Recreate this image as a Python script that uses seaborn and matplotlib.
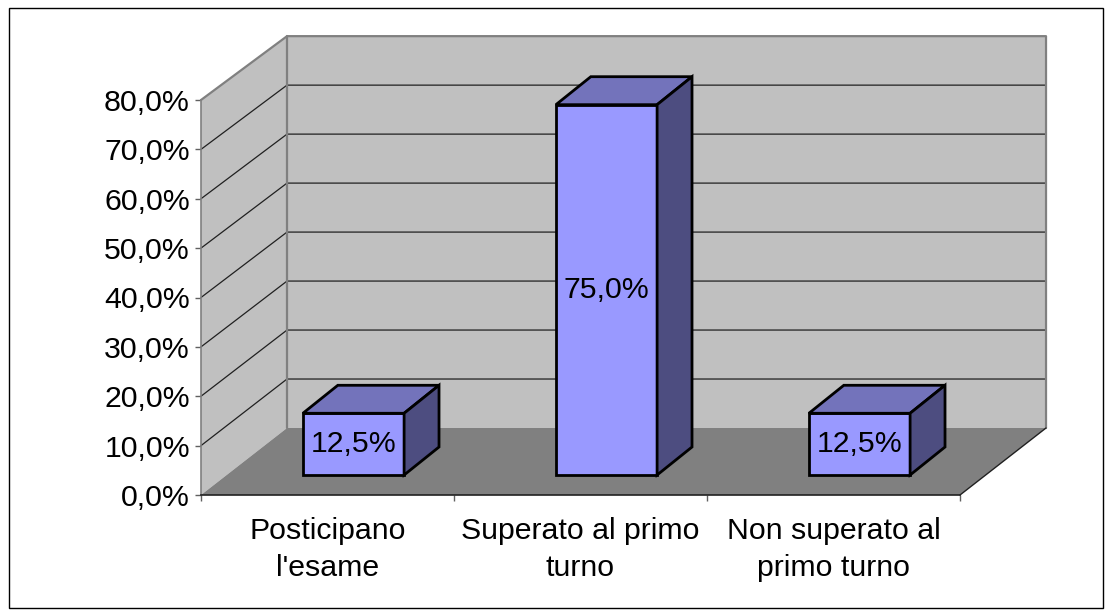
"""Excel style 3D bar chart of exam results"""

from matplotlib import pyplot as plt
from matplotlib.patches import Polygon, Rectangle
import pandas as pd
import seaborn as sns

categories = ["Posticipano\nl'esame", "Superato al primo\nturno", "Non superato al\nprimo turno"]
values = [12.5, 75.0, 12.5]
value_labels = ["12,5%", "75,0%", "12,5%"]
y_ticks = [0, 10, 20, 30, 40, 50, 60, 70, 80]
y_tick_labels = ["0,0%", "10,0%", "20,0%", "30,0%", "40,0%", "50,0%", "60,0%", "70,0%", "80,0%"]

W, H = 1111, 615
FONT = 21.8
BAR_LW = 2


def axes_rect(left, top, right, bottom):
    # pixel box to figure fractions
    return [left / W, 1 - bottom / H, (right - left) / W, (bottom - top) / H]


def back_x(x):
    return x + 0.34


def back_y(v):
    return 13.57 + v * 0.992


def draw_box(ax):
    # floor and the two walls sit behind the front plane
    x0, x1 = -0.5, 2.5
    floor = [(x0, 0), (x1, 0), (back_x(x1), back_y(0)), (back_x(x0), back_y(0))]
    left_wall = [(x0, 0), (back_x(x0), back_y(0)), (back_x(x0), back_y(80)), (x0, 80)]
    back_wall = [
        (back_x(x0), back_y(0)),
        (back_x(x1), back_y(0)),
        (back_x(x1), back_y(80)),
        (back_x(x0), back_y(80)),
    ]
    ax.add_patch(Polygon(back_wall, fc="#c0c0c0", ec="none", clip_on=False, zorder=1))
    ax.add_patch(Polygon(left_wall, fc="#c0c0c0", ec="none", clip_on=False, zorder=1))
    ax.add_patch(Polygon(floor, fc="#808080", ec="none", clip_on=False, zorder=1))

    for v in y_ticks[1:-1]:
        ax.plot(
            [x0, back_x(x0), back_x(x1)],
            [v, back_y(v), back_y(v)],
            color="#202020",
            lw=0.9,
            clip_on=False,
            zorder=2,
        )
    # gray outline of the walls
    ax.plot(
        [x0, back_x(x0), back_x(x1), back_x(x1)],
        [80, back_y(80), back_y(80), back_y(0)],
        color="#808080",
        lw=1.6,
        clip_on=False,
        zorder=2,
    )
    ax.plot(
        [back_x(x0), back_x(x0)],
        [back_y(0), back_y(80)],
        color="#808080",
        lw=1.6,
        clip_on=False,
        zorder=2,
    )
    ax.plot(
        [x1, back_x(x1)],
        [0, back_y(0)],
        color="#202020",
        lw=1,
        clip_on=False,
        zorder=2,
    )


def draw_bar_sides(ax):
    # top and side faces for the bars seaborn has drawn
    dx, dy = 0.138, 5.67
    for bar in ax.patches:
        x0 = bar.get_x()
        x1 = x0 + bar.get_width()
        h = bar.get_height()
        top = [(x0, h), (x1, h), (x1 + dx, h + dy), (x0 + dx, h + dy)]
        side = [(x1, 0), (x1 + dx, dy), (x1 + dx, h + dy), (x1, h)]
        ax.add_patch(Polygon(top, fc="#7373bb", ec="black", lw=BAR_LW, clip_on=False, joinstyle="miter"))
        ax.add_patch(Polygon(side, fc="#4d4d80", ec="black", lw=BAR_LW, clip_on=False, joinstyle="miter"))


def main():
    sns.set_theme(style="white")
    plt.rcParams["font.family"] = ["Liberation Sans", "DejaVu Sans"]

    fig = plt.figure(figsize=(W / 100, H / 100), dpi=100, facecolor="white")
    fig.add_artist(
        Rectangle(
            (8.5 / W, 1 - 607.5 / H),
            1094.5 / W,
            600 / H,
            transform=fig.transFigure,
            fc="none",
            ec="black",
            lw=1,
        )
    )

    # front plane: carries the axes and their labels
    ax = fig.add_axes(axes_rect(201, 100, 960, 495), facecolor="none")
    ax.set_xlim(-0.5, 2.5)
    ax.set_ylim(0, 80)
    draw_box(ax)

    ax.set_yticks(y_ticks)
    ax.set_yticklabels(y_tick_labels, fontsize=FONT, color="black")
    ax.set_xticks([-0.5, 0.5, 1.5, 2.5])
    ax.set_xticklabels([])
    ax.tick_params(axis="both", length=4.5, width=1, color="#606060", left=True, bottom=True)
    ax.tick_params(axis="y", pad=3.5)
    for side in ["top", "right"]:
        ax.spines[side].set_visible(False)
    ax.spines["left"].set_color("#808080")
    ax.spines["left"].set_linewidth(1.2)
    ax.spines["bottom"].set_color("#202020")
    ax.spines["bottom"].set_linewidth(1.2)
    for i, label in enumerate(categories):
        ax.annotate(
            label,
            xy=(i, 0),
            xytext=(0, -15.5),
            textcoords="offset points",
            ha="center",
            va="top",
            fontsize=FONT,
            linespacing=1.43,
            color="black",
            annotation_clip=False,
        )

    # bar plane: shifted into the depth of the box
    bar_ax = fig.add_axes(axes_rect(227, 80, 986, 475), facecolor="none")
    df = pd.DataFrame({"categoria": categories, "valore": values})
    sns.barplot(
        data=df,
        x="categoria",
        y="valore",
        color="#9999ff",
        saturation=1,
        width=0.4,
        edgecolor="black",
        linewidth=BAR_LW,
        ax=bar_ax,
    )
    bar_ax.set_xlim(-0.5, 2.5)
    bar_ax.set_ylim(0, 80)
    bar_ax.axis("off")
    for bar in bar_ax.patches:
        bar.set_clip_on(False)
        bar.set_joinstyle("miter")
    draw_bar_sides(bar_ax)
    bar_ax.bar_label(
        bar_ax.containers[0],
        labels=value_labels,
        label_type="center",
        fontsize=FONT,
        color="black",
    )

    fig.savefig("out.png", dpi=100)


if __name__ == "__main__":
    main()
